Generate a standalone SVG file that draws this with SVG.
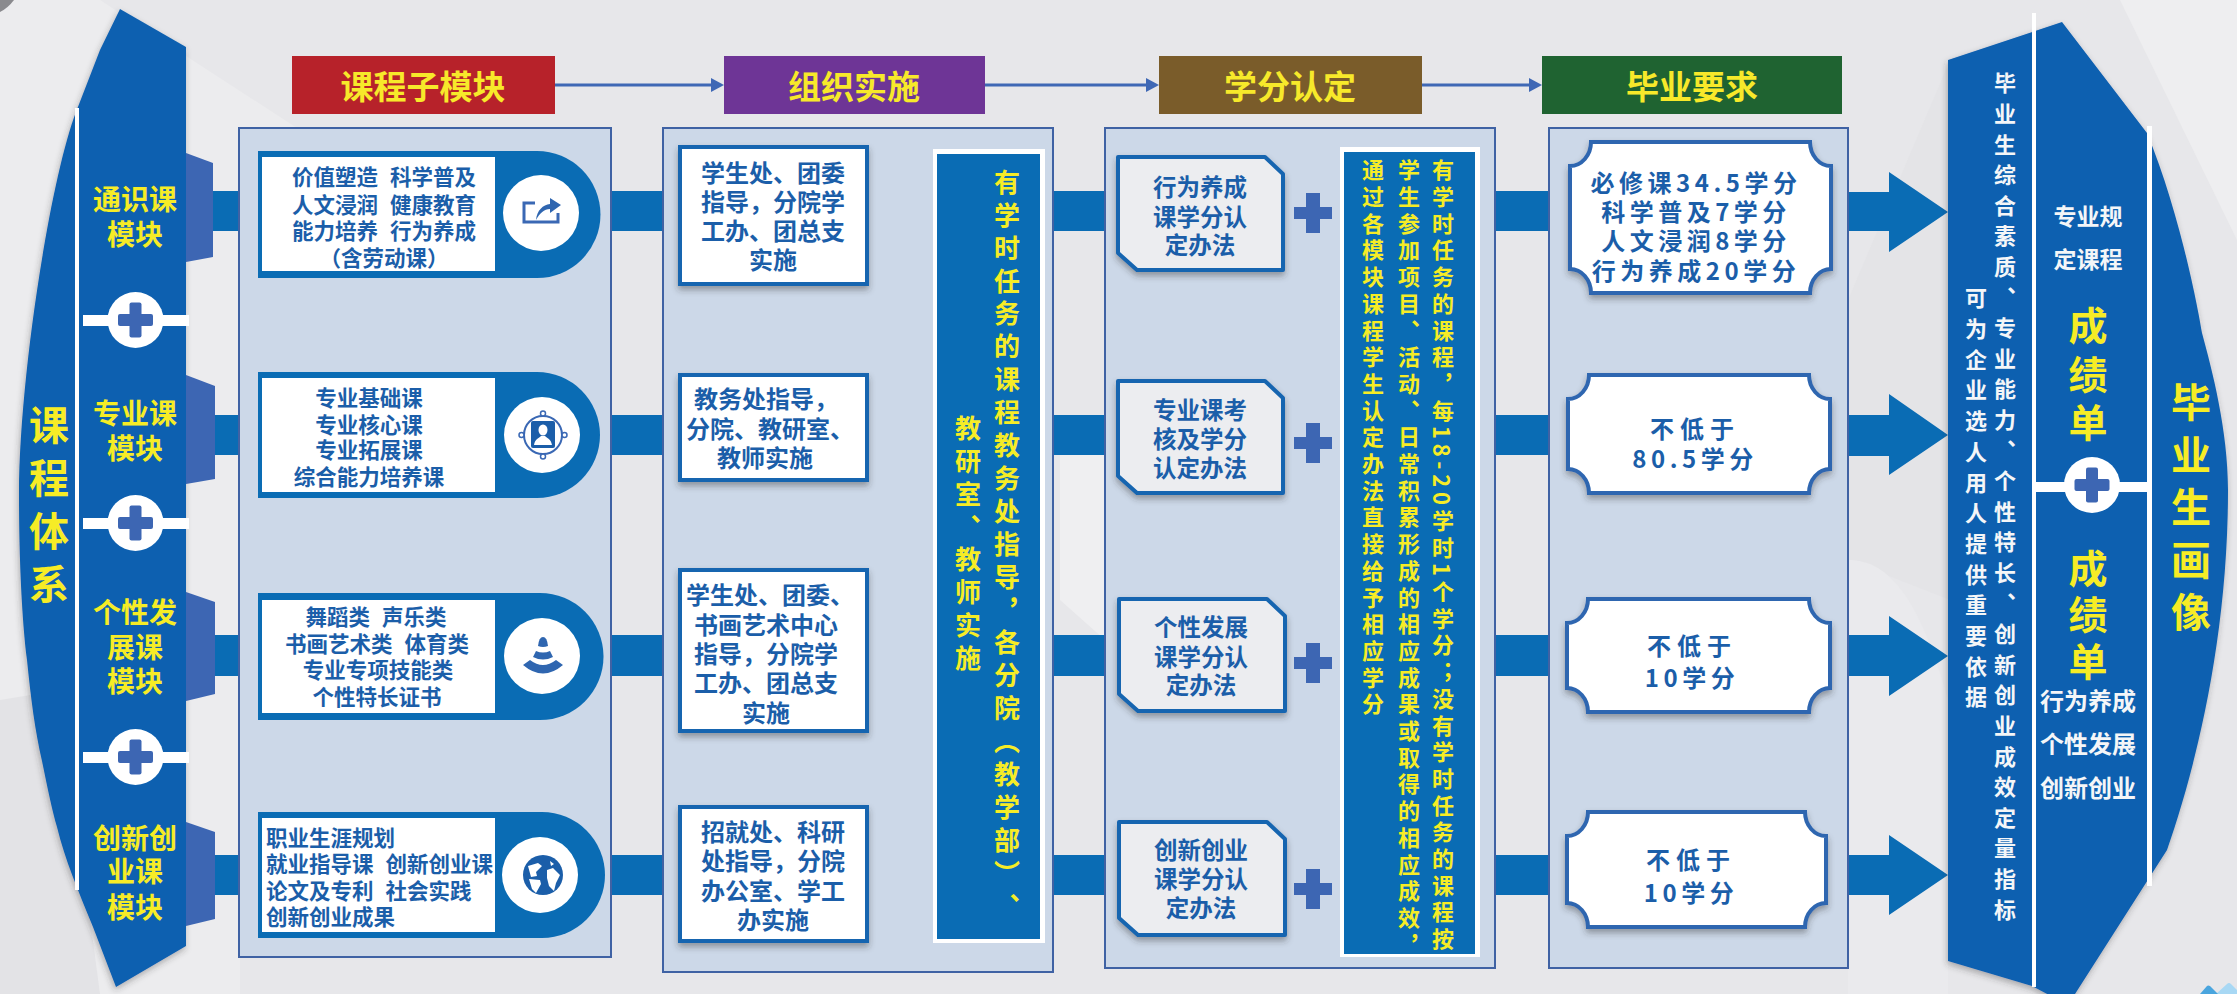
<svg xmlns="http://www.w3.org/2000/svg" width="2237" height="994" viewBox="0 0 2237 994">
<defs>
<style>
text{font-family:"Noto Sans CJK SC","Noto Sans",sans-serif;font-weight:700;text-anchor:middle;dominant-baseline:central;text-spacing-trim:space-all}
.v{writing-mode:vertical-rl;text-anchor:start;dominant-baseline:auto}
.y{fill:#f6ec26}
.b{fill:#1b5ea9}
.w{fill:#f4f6f8}
.blue{fill:#0e60b0}
.band{fill:#0a6cb4}
.panel{fill:#ccd8e8;stroke:#3f62a4;stroke-width:2}
.pill{fill:#0a6cb4}
.white{fill:#fff}
.acc{fill:#3d66b3}
.ic{fill:#2f66b0}
.hd{font-size:33px;fill:#f7e92a}
.t21{font-size:21.5px;word-spacing:7px}
.t24{font-size:24px}
.t23{font-size:23.5px}
.t24s{font-size:24px;letter-spacing:4.5px}
.m28{font-size:28px}
.box{fill:#fff;stroke:#1565b0;stroke-width:4;filter:url(#sh)}
.notch{fill:#ecedf0;stroke:#1565b0;stroke-width:4;stroke-linejoin:round;filter:url(#sh)}
.plaque{fill:#fff;stroke:#2f66b0;stroke-width:4;filter:url(#sh)}
.hl{stroke:#3f68b5;stroke-width:3;fill:none;marker-end:url(#ah)}
.il{stroke:#3f68b5;stroke-width:7;fill:none;marker-end:url(#ai)}
</style>
<filter id="sh" x="-15%" y="-15%" width="130%" height="135%"><feDropShadow dx="0" dy="4" stdDeviation="3" flood-color="#333" flood-opacity=".4"/></filter>
<filter id="shb" x="-15%" y="-5%" width="130%" height="110%"><feDropShadow dx="-1" dy="3" stdDeviation="3" flood-color="#333" flood-opacity=".35"/></filter>
<marker id="ah" markerUnits="userSpaceOnUse" markerWidth="13" markerHeight="14" refX="1" refY="7" orient="auto"><path d="M0,0L13,7L0,14Z" fill="#3f68b5"/></marker>
<marker id="ai" markerUnits="userSpaceOnUse" markerWidth="16" markerHeight="18" refX="1" refY="9" orient="auto"><path d="M0,0L16,9L0,18Z" fill="#3f68b5"/></marker>
<g id="plus"><rect x="-17.5" y="-6" width="35" height="12" rx="2"/><rect x="-6" y="-17.5" width="12" height="35" rx="2"/></g>
<g id="plusb"><rect x="-19" y="-6" width="38" height="12"/><rect x="-7" y="-20" width="14" height="40"/></g>
</defs>

<g id="background">
<rect width="2237" height="994" fill="#e7e7ea"/>
<path d="M0,0H100L300,130L240,300V994H0Z" fill="#ececee"/>
<path d="M0,0H14Q8,8 0,12Z" fill="#8a8a8e"/>
<path d="M0,700L60,690L100,994H0Z" fill="#e3e3e6"/>
<path d="M1060,420L1105,440V640L1060,600Z" fill="#efeff1"/>
<path d="M1848,300L1950,60V600L1848,560Z" fill="#e4e4e7"/>
<path d="M1848,560C1890,560 1920,600 1948,700V994H1848Z" fill="#eaeaed"/>
<path d="M2120,0H2237V240Z" fill="#eeeef0"/>
<path d="M2216,994L2227,984Q2229,982 2231,984L2237,990V994Z" fill="#a8d8f4"/>
<path d="M2200,994L2207,986Q2208,985 2210,986L2218,994Z" fill="#4aa5de"/>
</g>

<g id="connectors">
<path class="band" d="M213,191H239V231H213ZM610,191H663V231H610ZM1053,191H1105V231H1053ZM1495,191H1549V231H1495Z"/>
<path class="band" d="M213,415H239V455H213ZM610,415H663V455H610ZM1053,415H1105V455H1053ZM1495,415H1549V455H1495Z"/>
<path class="band" d="M213,635H239V676H213ZM610,635H663V676H610ZM1053,635H1105V676H1053ZM1495,635H1549V676H1495Z"/>
<path class="band" d="M213,855H239V895H213ZM610,855H663V895H610ZM1053,855H1105V895H1053ZM1495,855H1549V895H1495Z"/>
<polygon class="band" points="1848,192 1889,192 1889,172 1948,212 1889,252 1889,231 1848,231"/>
<polygon class="band" points="1848,415 1889,415 1889,394 1948,435 1889,475 1889,456 1848,456"/>
<polygon class="band" points="1848,635 1889,635 1889,616 1948,656 1889,696 1889,676 1848,676"/>
<polygon class="band" points="1848,855 1889,855 1889,835 1948,875 1889,915 1889,895 1848,895"/>
<line class="hl" x1="555" y1="85" x2="712" y2="85"/>
<line class="hl" x1="985" y1="85" x2="1147" y2="85"/>
<line class="hl" x1="1422" y1="85" x2="1530" y2="85"/>
<line class="il" x1="867" y1="210" x2="912" y2="210"/>
<line class="il" x1="867" y1="423" x2="912" y2="423"/>
<line class="il" x1="867" y1="656" x2="912" y2="656"/>
<line class="il" x1="867" y1="866" x2="912" y2="866"/>
</g>

<g id="left-system">
<path class="blue" filter="url(#shb)" d="M120,9L186,47V946L116,987L93,927C78,890 65,860 57,827C52,810 48,790 42,761C35,730 31,700 27,660C22,620 19,560 19,494C19,380 50,180 76,112L100,50Z"/>
<rect class="white" x="75" y="108" width="4" height="782"/>
<polygon class="acc" points="186,153 213,163 213,257 186,262"/>
<polygon class="acc" points="186,375 215,386 215,479 186,484"/>
<polygon class="acc" points="186,592 215,602 215,694 186,701"/>
<polygon class="acc" points="186,822 215,832 215,919 186,926"/>
<text class="y v" x="49" y="405" style="font-size:40px;letter-spacing:13px">课程体系</text>
<text class="y m28" x="135" y="198">通识课</text><text class="y m28" x="135" y="233">模块</text>
<text class="y m28" x="135" y="412">专业课</text><text class="y m28" x="135" y="447">模块</text>
<text class="y m28" x="135" y="611">个性发</text><text class="y m28" x="135" y="646">展课</text><text class="y m28" x="135" y="680">模块</text>
<text class="y m28" x="135" y="837">创新创</text><text class="y m28" x="135" y="870">业课</text><text class="y m28" x="135" y="906">模块</text>
<rect class="white" x="83" y="315" width="106" height="11"/><circle class="white" cx="135.500" cy="320" r="28"/><use href="#plus" x="135.500" y="320" class="acc"/>
<rect class="white" x="83" y="518" width="106" height="11"/><circle class="white" cx="135.500" cy="523" r="28"/><use href="#plus" x="135.500" y="523" class="acc"/>
<rect class="white" x="83" y="752" width="106" height="11"/><circle class="white" cx="135.500" cy="757" r="28"/><use href="#plus" x="135.500" y="757" class="acc"/>
</g>

<g id="head-1"><rect x="292" y="56" width="263" height="58" fill="#b7222a"/><text class="hd" x="423" y="85">课程子模块</text></g>
<g id="head-2"><rect x="724" y="56" width="261" height="58" fill="#6e3596"/><text class="hd" x="854" y="85">组织实施</text></g>
<g id="head-3"><rect x="1159" y="56" width="263" height="58" fill="#7a5c2a"/><text class="hd" x="1290" y="85">学分认定</text></g>
<g id="head-4"><rect x="1542" y="56" width="300" height="58" fill="#1f6331"/><text class="hd" x="1692" y="85">毕业要求</text></g>

<g id="panel-1"><rect class="panel" x="239" y="128" width="372" height="829"/></g>
<g id="panel-2"><rect class="panel" x="663" y="128" width="390" height="844"/></g>
<g id="panel-3"><rect class="panel" x="1105" y="128" width="390" height="840"/></g>
<g id="panel-4"><rect class="panel" x="1549" y="128" width="299" height="840"/></g>

<g id="module-1">
<path class="pill" d="M258,151H537A63.500,63.500 0 0 1 537,278H258Z"/>
<rect class="white" x="262" y="157" width="233" height="114"/>
<circle class="white" cx="541" cy="213" r="38"/>
<path d="M535,203H524V222H558V213" fill="none" stroke="#3a68b4" stroke-width="3"/>
<path class="ic" d="M536,220C537,210 543,205 550,204V198L561,205L550,213V209C544,209 540,213 536,220Z"/>
<text class="b t21" x="384" y="175">价值塑造 科学普及</text>
<text class="b t21" x="384" y="203">人文浸润 健康教育</text>
<text class="b t21" x="384" y="229">能力培养 行为养成</text>
<text class="b t21" x="384" y="256">（含劳动课）</text>
</g>
<g id="module-2">
<path class="pill" d="M258,372H537A63,63 0 0 1 537,498H258Z"/>
<rect class="white" x="262" y="378" width="233" height="114"/>
<circle class="white" cx="542" cy="435" r="38"/>
<circle cx="543" cy="435" r="19" fill="none" stroke="#3a68b4" stroke-width="2"/>
<g fill="#fff" stroke="#3a68b4" stroke-width="1.500"><circle cx="543" cy="413.500" r="2.500"/><circle cx="564.500" cy="435" r="2.500"/><circle cx="543" cy="456.500" r="2.500"/><circle cx="521.500" cy="435" r="2.500"/></g>
<rect x="531" y="421" width="24" height="27" rx="2" fill="#1b5ea9"/>
<ellipse cx="543" cy="430" rx="4.500" ry="5.500" fill="#fff"/><path d="M534,445C535,439 539,438 541,436H545C547,438 551,439 552,445Z" fill="#fff"/>
<text class="b t21" x="369" y="396">专业基础课</text>
<text class="b t21" x="369" y="423">专业核心课</text>
<text class="b t21" x="369" y="448">专业拓展课</text>
<text class="b t21" x="369" y="475">综合能力培养课</text>
</g>
<g id="module-3">
<path class="pill" d="M258,593H540A63.500,63.500 0 0 1 540,720H258Z"/>
<rect class="white" x="262" y="600" width="233" height="113"/>
<circle class="white" cx="542" cy="656" r="38"/>
<path class="ic" d="M538,646Q539,637 543,637Q547,637 548,646Q543,648 538,646Z"/>
<path class="ic" d="M536,651Q543,654 550,651L553,657Q543,662 533,657Z"/>
<path class="ic" d="M523,665L530,660Q543,670 556,660L563,665Q543,682 523,665Z"/>
<text class="b t21" x="376" y="615">舞蹈类 声乐类</text>
<text class="b t21" x="377" y="642">书画艺术类 体育类</text>
<text class="b t21" x="378" y="668">专业专项技能类</text>
<text class="b t21" x="377" y="695">个性特长证书</text>
</g>
<g id="module-4">
<path class="pill" d="M258,812H542A63,63 0 0 1 542,938H258Z"/>
<rect class="white" x="262" y="818" width="233" height="114"/>
<circle class="white" cx="540" cy="875" r="38"/>
<circle cx="543" cy="875" r="20" fill="#1b5ea9"/>
<path class="white" d="M528,866L538,863L542,866L536,872L537,876L531,877ZM529,879L540,880L541,884L536,893L532,889ZM547,870L553,868L560,875L556,883L554,891L549,886L547,878ZM550,861L554,864L551,866Z"/>
<text class="b t21" x="266" y="836" style="text-anchor:start">职业生涯规划</text>
<text class="b t21" x="266" y="862" style="text-anchor:start">就业指导课 创新创业课</text>
<text class="b t21" x="266" y="889" style="text-anchor:start">论文及专利 社会实践</text>
<text class="b t21" x="266" y="915" style="text-anchor:start">创新创业成果</text>
</g>

<g id="org-1"><rect class="box" x="680" y="147" width="187" height="137"/>
<text class="b t24" x="773" y="171">学生处、团委</text><text class="b t24" x="773" y="200">指导，分院学</text><text class="b t24" x="773" y="229">工办、团总支</text><text class="b t24" x="773" y="258">实施</text></g>
<g id="org-2"><rect class="box" x="680" y="375" width="187" height="105"/>
<text class="b t24" x="766" y="397">教务处指导，</text><text class="b t24" x="770" y="427">分院、教研室、</text><text class="b t24" x="765" y="456">教师实施</text></g>
<g id="org-3"><rect class="box" x="680" y="570" width="187" height="161"/>
<text class="b t24" x="770" y="593">学生处、团委、</text><text class="b t24" x="766" y="623">书画艺术中心</text><text class="b t24" x="766" y="652">指导，分院学</text><text class="b t24" x="766" y="681">工办、团总支</text><text class="b t24" x="766" y="711">实施</text></g>
<g id="org-4"><rect class="box" x="680" y="807" width="187" height="134"/>
<text class="b t24" x="773" y="830">招就处、科研</text><text class="b t24" x="773" y="859">处指导，分院</text><text class="b t24" x="773" y="889">办公室、学工</text><text class="b t24" x="773" y="918">办实施</text></g>
<g id="org-note"><rect class="white" x="933" y="149" width="112" height="794"/><rect class="band" x="937" y="154" width="103" height="785"/>
<text class="y v" x="1007" y="169" style="font-size:26px;letter-spacing:6.900px">有学时任务的课程教务处指导，各分院（教学部）、</text>
<text class="y v" x="968" y="415" style="font-size:26px;letter-spacing:6.900px">教研室、教师实施</text></g>

<g id="credit-1"><path class="notch" d="M1118,157H1265L1283,174V270H1137L1118,253Z"/>
<text class="b t23" x="1200" y="186">行为养成</text><text class="b t23" x="1200" y="216">课学分认</text><text class="b t23" x="1200" y="244">定办法</text></g>
<g id="credit-2"><path class="notch" d="M1118,381H1265L1283,398V493H1137L1118,476Z"/>
<text class="b t23" x="1200" y="409">专业课考</text><text class="b t23" x="1200" y="438">核及学分</text><text class="b t23" x="1200" y="467">认定办法</text></g>
<g id="credit-3"><path class="notch" d="M1119,599H1267L1285,616V711H1138L1119,694Z"/>
<text class="b t23" x="1201" y="626">个性发展</text><text class="b t23" x="1201" y="656">课学分认</text><text class="b t23" x="1201" y="684">定办法</text></g>
<g id="credit-4"><path class="notch" d="M1119,822H1267L1285,839V935H1138L1119,918Z"/>
<text class="b t23" x="1201" y="849">创新创业</text><text class="b t23" x="1201" y="878">课学分认</text><text class="b t23" x="1201" y="907">定办法</text></g>
<g id="credit-plus" class="acc"><use href="#plusb" x="1313" y="213"/><use href="#plusb" x="1313" y="443"/><use href="#plusb" x="1313" y="663"/><use href="#plusb" x="1313" y="889"/></g>
<g id="credit-note"><rect class="white" x="1340" y="147" width="140" height="810"/><rect class="band" x="1344" y="152" width="131" height="802"/>
<text class="y v" x="1443" y="159" style="font-size:22px;letter-spacing:4.700px">有学时任务的课程，每18-20学时1个学分；没有学时任务的课程按</text>
<text class="y v" x="1409" y="159" style="font-size:22px;letter-spacing:4.700px">学生参加项目、活动、日常积累形成的相应成果或取得的相应成效，</text>
<text class="y v" x="1373" y="159" style="font-size:22px;letter-spacing:4.700px">通过各模块课程学生认定办法直接给予相应学分</text></g>

<g id="req-1"><path class="plaque" d="M1591,142H1810A21,24 0 0 0 1831,166V269A21,24 0 0 0 1810,293H1591A21,24 0 0 0 1570,269V166A21,24 0 0 0 1591,142Z"/>
<text class="b t24s" x="1696" y="181">必修课34.5学分</text><text class="b t24s" x="1696" y="210">科学普及7学分</text><text class="b t24s" x="1696" y="239">人文浸润8学分</text><text class="b t24s" x="1696" y="269">行为养成20学分</text></g>
<g id="req-2"><path class="plaque" d="M1589,375H1809A21,24 0 0 0 1830,399V469A21,24 0 0 0 1809,493H1589A21,24 0 0 0 1568,469V399A21,24 0 0 0 1589,375Z"/>
<text class="b t24s" x="1695" y="427" style="letter-spacing:6px">不低于</text><text class="b t24s" x="1695" y="457">80.5学分</text></g>
<g id="req-3"><path class="plaque" d="M1588,599H1809A21,24 0 0 0 1830,623V688A21,24 0 0 0 1809,712H1588A21,24 0 0 0 1567,688V623A21,24 0 0 0 1588,599Z"/>
<text class="b t24s" x="1692" y="644" style="letter-spacing:6px">不低于</text><text class="b t24s" x="1692" y="676">10学分</text></g>
<g id="req-4"><path class="plaque" d="M1588,812H1805A21,24 0 0 0 1826,836V903A21,24 0 0 0 1805,927H1588A21,24 0 0 0 1567,903V836A21,24 0 0 0 1588,812Z"/>
<text class="b t24s" x="1691" y="858" style="letter-spacing:6px">不低于</text><text class="b t24s" x="1691" y="891">10学分</text></g>

<g id="right-portrait">
<path class="blue" filter="url(#shb)" d="M1948,60L2062,22L2147,133C2175,200 2195,290 2202,333C2212,370 2228,430 2228,490C2228,640 2195,770 2167,850L2068,1005L2032,986L1948,961Z"/>
<rect class="white" x="2032" y="13" width="4" height="974"/>
<rect class="white" x="2147" y="126" width="5" height="760"/>
<text class="w v" x="2005" y="72" style="font-size:22px;letter-spacing:8.600px">毕业生综合素质、专业能力、个性特长、创新创业成效定量指标</text>
<text class="w v" x="1976" y="287" style="font-size:22px;letter-spacing:8.700px">可为企业选人用人提供重要依据</text>
<text class="w" x="2088" y="215" style="font-size:23px">专业规</text>
<text class="w" x="2088" y="258" style="font-size:23px">定课程</text>
<text class="y" x="2088" y="323" style="font-size:39px">成</text><text class="y" x="2088" y="372" style="font-size:39px">绩</text><text class="y" x="2088" y="420" style="font-size:39px">单</text>
<rect class="white" x="2034" y="482" width="118" height="10"/><circle class="white" cx="2092" cy="485" r="28"/><use href="#plus" x="2092" y="485" class="acc"/>
<text class="y" x="2088" y="566" style="font-size:39px">成</text><text class="y" x="2088" y="612" style="font-size:39px">绩</text><text class="y" x="2088" y="659" style="font-size:39px">单</text>
<text class="w" x="2088" y="699" style="font-size:24px">行为养成</text>
<text class="w" x="2088" y="742" style="font-size:24px">个性发展</text>
<text class="w" x="2088" y="786" style="font-size:24px">创新创业</text>
<text class="y v" x="2191" y="382" style="font-size:40px;letter-spacing:12.500px">毕业生画像</text>
</g>
</svg>
